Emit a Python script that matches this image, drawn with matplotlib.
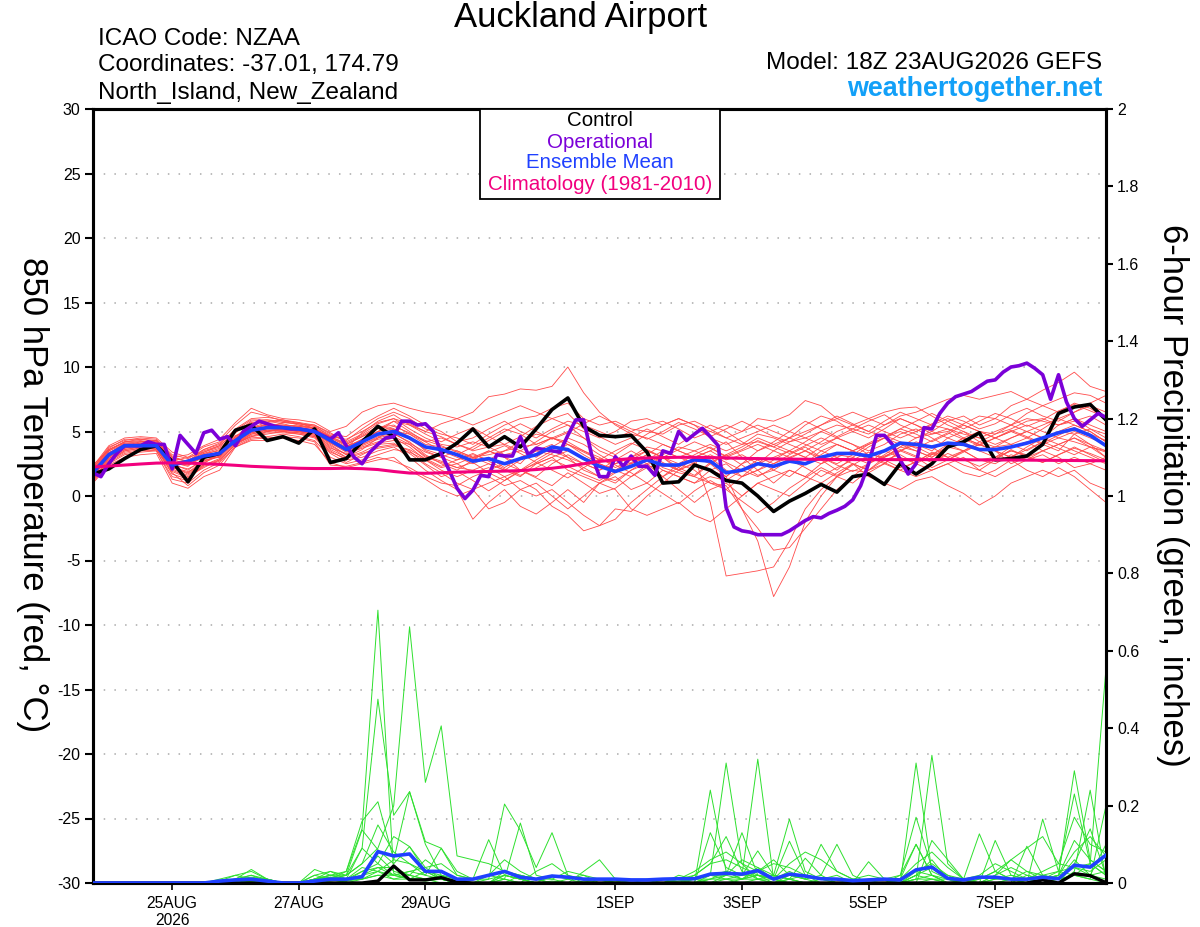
import matplotlib
matplotlib.use('Agg')
import matplotlib.pyplot as plt
from matplotlib.patches import Rectangle
import numpy as np

plt.rcParams['font.family'] = ['Liberation Sans', 'DejaVu Sans']
plt.rcParams['axes.unicode_minus'] = False

# forecast hours from 18Z 23AUG2026 (6-hourly ensemble, 3-hourly operational)
hours = np.arange(0, 385, 6)
hours_op = np.arange(0, 385, 3)

tick_hours = [30, 78, 126, 198, 246, 294, 342]
tick_labels = ['25AUG\n2026', '27AUG', '29AUG', '1SEP', '3SEP', '5SEP', '7SEP']

# 850 hPa temperature (C)
control_t = [1.7, 2.1, 2.9, 3.6, 3.9, 2.7, 1.1, 3.0, 3.3, 5.1,
             5.5, 4.3, 4.6, 4.1, 5.2, 2.6, 2.9, 4.2, 5.4, 4.6,
             2.8, 2.8, 3.3, 4.1, 5.2, 3.8, 4.6, 3.8, 5.2, 6.7,
             7.6, 5.4, 4.7, 4.6, 4.7, 3.4, 1.0, 1.1, 2.4, 2.0,
             1.2, 1.0, 0.0, -1.2, -0.4, 0.2, 0.9, 0.3, 1.5, 1.7,
             0.9, 2.5, 1.7, 2.5, 3.8, 4.2, 4.9, 2.8, 2.9, 3.1,
             4.0, 6.4, 6.9, 7.1, 5.9]

oper_t = [1.8, 1.5, 2.5, 3.3, 3.9, 3.9, 3.9, 4.2, 4.0, 4.0,
          2.1, 4.7, 4.0, 3.3, 4.9, 5.1, 4.4, 4.6, 3.9, 5.0,
          5.4, 5.8, 5.6, 5.4, 5.3, 5.2, 5.2, 5.1, 5.0, 4.7,
          4.4, 4.9, 3.9, 3.0, 2.5, 3.4, 4.0, 4.5, 4.6, 5.8,
          5.8, 5.5, 5.6, 5.0, 3.3, 2.0, 0.6, -0.2, 0.45, 1.6,
          1.5, 3.2, 3.1, 3.1, 4.6, 3.2, 3.7, 3.6, 3.5, 3.4,
          4.7, 5.9, 5.9, 3.2, 1.5, 1.5, 3.05, 2.3, 3.1, 2.3,
          2.3, 1.6, 3.5, 3.3, 5.0, 4.3, 4.8, 5.25, 4.6, 3.9,
          -0.9, -2.4, -2.7, -2.8, -3.0, -3.0, -3.0, -3.0, -2.7, -2.3,
          -1.9, -1.6, -1.7, -1.35, -1.1, -0.8, -0.3, 0.8, 2.5, 4.7,
          4.7, 4.0, 2.8, 1.7, 2.5, 5.3, 5.2, 6.4, 7.2, 7.7,
          7.9, 8.1, 8.5, 8.9, 9.0, 9.6, 10.0, 10.1, 10.3, 9.9,
          9.4, 7.5, 9.4, 7.3, 6.0, 5.4, 5.9, 6.4, 6.1]

mean_t = [1.8, 3.2, 3.9, 3.9, 3.9, 2.4, 2.7, 3.1, 3.3, 4.3,
          5.1, 5.3, 5.3, 5.2, 5.0, 4.3, 3.6, 4.2, 4.8, 5.0,
          4.5, 3.8, 3.6, 3.2, 2.7, 2.9, 2.5, 2.9, 3.2, 3.8,
          3.6, 2.9, 2.3, 1.9, 2.3, 2.8, 2.4, 2.4, 2.8, 2.7,
          1.8, 2.0, 2.5, 2.3, 2.7, 2.5, 3.0, 3.3, 3.3, 3.1,
          3.5, 4.1, 4.0, 3.8, 4.1, 4.0, 3.6, 3.6, 3.8, 4.1,
          4.5, 4.9, 5.2, 4.7, 3.9]

climo_t = [2.25, 2.32, 2.4, 2.48, 2.55, 2.57, 2.55, 2.5, 2.45, 2.38,
           2.3, 2.25, 2.2, 2.15, 2.13, 2.13, 2.15, 2.12, 2.05, 1.9,
           1.78, 1.76, 1.8, 1.85, 1.88, 1.9, 1.93, 1.97, 2.05, 2.15,
           2.3, 2.5, 2.68, 2.8, 2.9, 2.95, 2.98, 3.0, 3.0, 2.98,
           2.95, 2.92, 2.9, 2.88, 2.86, 2.85, 2.84, 2.83, 2.82, 2.82,
           2.82, 2.82, 2.82, 2.82, 2.82, 2.81, 2.8, 2.8, 2.79, 2.78,
           2.77, 2.76, 2.75, 2.74, 2.73]

t_m01 = [2.2, 3.8, 4.3, 4.5, 4.4, 3.2, 2.9, 3.6, 4.0, 5.2, 6.0, 6.1, 5.9, 5.6, 5.4, 4.7, 4.3, 5.2, 6.0, 6.5,
         6.0, 5.2, 4.8, 4.5, 4.0, 4.8, 5.5, 6.0, 6.2, 6.8, 7.2, 6.0, 5.5, 5.8, 5.2, 5.0, 4.8, 5.5, 5.8, 5.2,
         4.5, 4.0, 4.2, 3.8, 4.5, 5.5, 6.2, 5.8, 5.0, 4.5, 5.2, 6.0, 5.5, 4.8, 5.0, 5.6, 6.2, 6.0, 5.5, 6.4,
         7.0, 6.5, 7.2, 6.8, 6.0]
t_m02 = [1.6, 3.0, 3.8, 3.9, 4.0, 2.2, 1.8, 2.8, 3.0, 4.4, 5.3, 5.5, 5.4, 5.0, 4.8, 3.8, 3.0, 3.6, 4.5, 4.8,
         4.2, 3.2, 2.5, 2.0, 2.8, 3.5, 3.0, 2.5, 3.8, 4.5, 4.0, 3.5, 3.0, 2.2, 2.8, 3.5, 3.0, 2.0, 3.0, -0.5,
         -6.2, -6.0, -5.8, -5.5, -3.5, -1.0, 0.5, 1.5, 2.5, 2.0, 3.0, 3.8, 3.5, 3.0, 3.8, 4.2, 3.5, 3.0, 3.5, 3.2,
         4.0, 4.5, 4.2, 3.8, 3.5]
t_m03 = [1.9, 3.3, 4.0, 3.6, 3.5, 1.5, 1.2, 2.5, 3.4, 4.1, 4.8, 5.0, 5.1, 5.3, 5.0, 4.1, 3.4, 4.0, 4.5, 5.2,
         4.6, 3.5, 3.0, 2.5, 1.8, 2.2, 1.5, 2.0, 2.5, 3.0, 2.0, 1.5, 1.0, 1.8, 2.5, 3.0, 2.2, 1.8, 1.5, 1.0,
         0.8, -1.0, -3.5, -7.8, -5.5, -2.0, 0.0, 1.5, 2.0, 1.8, 2.5, 3.5, 4.0, 3.5, 4.5, 5.0, 4.2, 3.8, 4.0, 4.5,
         4.0, 3.5, 4.8, 5.2, 4.5]
t_m04 = [2.0, 3.6, 4.1, 4.2, 4.0, 2.6, 2.4, 3.2, 3.6, 4.6, 5.6, 5.8, 5.6, 5.3, 5.1, 4.4, 3.8, 4.4, 5.0, 5.8,
         5.5, 5.0, 5.6, 6.0, 6.5, 7.7, 7.9, 8.3, 8.2, 8.5, 10.0, 8.0, 6.5, 5.5, 4.8, 4.5, 4.0, 3.5, 3.0, 2.5,
         3.2, 3.8, 4.5, 4.0, 3.5, 4.2, 5.0, 4.5, 4.0, 3.5, 4.0, 4.8, 5.2, 4.5, 3.8, 3.5, 4.2, 4.8, 5.5, 5.0,
         4.5, 5.5, 6.0, 5.2, 4.8]
t_m05 = [1.4, 2.8, 3.5, 3.7, 3.8, 2.0, 1.5, 2.2, 2.8, 4.0, 4.6, 4.8, 5.0, 4.9, 4.6, 3.5, 2.8, 3.0, 3.5, 3.8,
         3.0, 2.0, 1.2, 0.5, -1.8, -0.5, 0.5, -0.8, -1.4, -0.5, 0.5, -0.5, 1.0, 1.5, 0.5, 1.0, 2.0, 1.5, 1.0, 2.0,
         2.5, 1.5, 2.0, 1.0, 2.0, 1.5, 2.5, 3.0, 2.5, 2.0, 2.8, 3.2, 2.5, 2.0, 2.5, 3.0, 2.0, 1.5, 2.2, 2.8,
         3.2, 2.5, 3.0, 2.5, 2.0]
t_m06 = [1.7, 3.1, 3.9, 4.1, 3.9, 2.5, 2.0, 2.9, 3.3, 4.2, 5.0, 5.4, 5.5, 5.2, 4.9, 4.0, 3.2, 3.8, 4.2, 4.5,
         3.8, 2.8, 2.0, 1.5, 2.0, 1.5, 0.8, 1.2, 0.5, -0.8, -1.5, -2.7, -2.3, -1.0, -1.2, 0.0, 1.0, 2.0, 2.5, 2.0,
         1.5, 2.5, 3.0, 2.5, 3.0, 3.5, 2.8, 2.0, 3.0, 3.8, 4.5, 4.0, 3.5, 3.0, 3.8, 4.5, 5.0, 4.5, 4.0, 3.5,
         4.2, 5.0, 5.5, 5.0, 4.2]
t_m07 = [2.3, 3.9, 4.5, 4.6, 4.5, 3.4, 3.0, 3.8, 4.2, 5.5, 6.5, 6.2, 5.8, 5.7, 5.5, 4.8, 4.6, 5.5, 6.2, 6.8,
         6.2, 5.5, 5.0, 4.2, 4.5, 5.2, 5.8, 5.0, 4.5, 5.2, 5.8, 5.5, 5.0, 4.5, 5.0, 5.5, 5.8, 5.2, 4.5, 5.0,
         5.5, 5.0, 6.0, 5.8, 6.3, 7.4, 7.0, 6.0, 5.5, 5.0, 5.8, 6.5, 6.0, 5.5, 6.0, 5.5, 5.0, 4.8, 5.2, 5.8,
         6.0, 5.5, 5.8, 6.2, 5.5]
t_m08 = [1.2, 2.6, 3.3, 3.5, 3.6, 1.8, 0.8, 1.8, 2.4, 3.9, 4.5, 4.6, 4.8, 4.6, 4.3, 3.0, 2.5, 2.8, 3.2, 3.6,
         3.4, 2.8, 2.2, 2.5, 3.0, 3.5, 3.0, 2.0, 2.8, 3.5, 3.0, 2.0, 1.5, 1.2, 2.0, 2.5, 1.5, 0.5, -0.5, 0.5,
         1.0, 0.0, 1.0, 1.5, 2.0, 1.5, 1.0, 1.8, 2.5, 1.5, 1.0, 0.5, 1.2, 1.5, 0.8, 0.2, -0.7, 0.0, 1.0, 1.5,
         2.0, 1.5, 2.0, 1.0, 0.5]
t_m09 = [1.8, 3.4, 3.8, 3.8, 3.9, 2.4, 2.8, 3.3, 3.5, 4.3, 5.2, 5.6, 5.4, 5.5, 5.2, 4.6, 4.0, 4.6, 5.3, 5.5,
         4.8, 4.0, 3.8, 3.5, 3.0, 3.2, 3.5, 3.8, 4.0, 4.5, 4.2, 3.5, 2.8, 2.5, 3.0, 3.5, 3.0, 2.5, 3.2, 3.8,
         3.0, 3.5, 4.0, 3.5, 4.2, 4.5, 5.0, 5.5, 5.2, 4.8, 5.5, 6.0, 5.5, 5.0, 5.8, 6.2, 5.5, 6.0, 7.0, 7.5,
         8.2, 8.8, 9.6, 8.5, 8.1]
t_m10 = [1.5, 3.0, 3.7, 4.0, 4.2, 2.8, 2.5, 3.0, 3.0, 4.5, 5.4, 5.0, 5.2, 5.4, 5.3, 4.2, 3.5, 4.2, 5.0, 5.2,
         4.5, 3.8, 3.5, 3.0, 2.5, 3.0, 2.2, 3.0, 3.5, 3.2, 2.8, 2.2, 1.5, 1.0, 2.0, 2.8, 3.5, 3.0, 3.5, 4.0,
         3.5, 4.0, 4.8, 4.5, 4.0, 3.5, 4.2, 5.0, 5.5, 6.0, 6.5, 6.8, 6.9, 6.2, 5.5, 5.0, 4.5, 4.0, 4.5, 5.0,
         4.5, 4.0, 4.5, 4.0, 3.5]
t_m11 = [1.1, 2.5, 3.2, 3.4, 3.5, 1.3, 1.0, 2.0, 2.6, 3.8, 4.4, 4.5, 4.6, 4.5, 4.2, 2.4, 2.3, 2.6, 3.0, 2.7,
         2.2, 1.5, 1.0, 0.8, 1.5, 2.0, 2.5, 2.0, 1.5, 2.5, 3.2, 2.5, 2.0, 2.8, 3.5, 2.8, 2.0, 1.5, 1.0, 1.5,
         1.2, 2.0, 2.8, 2.0, 1.5, 2.5, 3.2, 4.0, 3.5, 3.0, 2.5, 3.5, 4.2, 3.8, 3.0, 3.5, 2.8, 2.5, 3.2, 2.8,
         3.5, 4.0, 3.5, 3.0, 2.5]
t_m12 = [2.1, 3.7, 4.4, 4.4, 4.2, 3.0, 3.2, 3.9, 4.4, 5.7, 6.8, 6.3, 6.0, 5.9, 5.7, 5.0, 5.4, 6.5, 7.0, 7.2,
         6.8, 6.5, 6.3, 6.0, 5.5, 6.0, 6.5, 7.0, 6.5, 6.0, 5.5, 5.0, 4.5, 5.0, 5.8, 6.0, 5.5, 6.0, 5.5, 4.5,
         4.0, 4.5, 5.0, 5.5, 5.0, 4.5, 4.0, 4.5, 5.0, 5.5, 5.0, 4.5, 5.0, 5.5, 5.2, 4.8, 4.5, 5.0, 5.5, 6.0,
         5.8, 5.5, 6.0, 5.5, 5.0]
t_m13 = [1.3, 2.7, 3.4, 3.6, 3.7, 1.9, 1.4, 2.3, 2.7, 4.0, 4.7, 4.9, 4.9, 4.8, 4.5, 3.3, 2.6, 3.2, 3.8, 4.0,
         3.5, 2.5, 1.8, 1.0, 0.5, 1.0, 1.5, 0.5, 0.0, 0.5, -0.5, -1.5, -2.3, -1.8, -0.5, 0.5, 1.5, 2.5, 2.0, 1.0,
         0.5, 1.5, 2.5, 3.5, 3.0, 2.5, 3.5, 4.0, 3.5, 2.8, 3.0, 3.5, 3.0, 2.2, 2.8, 3.5, 4.0, 3.5, 2.5, 3.0,
         3.5, 3.0, 2.2, 2.5, 3.0]
t_m14 = [1.9, 3.2, 3.9, 4.2, 4.3, 2.7, 3.0, 3.4, 3.8, 4.7, 5.0, 5.3, 5.7, 5.6, 5.5, 4.9, 4.2, 4.8, 5.6, 6.0,
         5.2, 4.5, 4.0, 3.8, 4.2, 3.8, 3.2, 3.5, 4.2, 5.0, 5.5, 4.5, 3.5, 3.0, 2.5, 3.2, 4.0, 3.5, 3.0, 3.5,
         4.2, 3.0, 2.0, 2.5, 3.2, 3.8, 3.0, 2.5, 3.2, 4.0, 4.5, 5.2, 4.8, 4.2, 4.8, 5.5, 5.0, 4.5, 5.0, 4.5,
         5.2, 6.0, 6.5, 7.0, 6.5]
t_m15 = [1.6, 2.9, 3.6, 3.8, 3.6, 2.1, 1.6, 2.6, 3.1, 4.1, 4.9, 5.1, 5.0, 4.9, 4.7, 3.7, 3.3, 3.7, 4.1, 4.3,
         4.0, 3.0, 2.6, 2.2, 2.0, 2.5, 2.0, 1.5, 2.5, 3.0, 3.5, 3.0, 2.5, 2.0, 1.5, 2.2, 2.5, 2.0, 1.5, 2.5,
         1.5, -1.0, -2.5, -4.2, -4.0, -2.5, -1.0, 0.5, 1.5, 2.5, 3.5, 3.0, 2.5, 3.2, 4.0, 3.5, 2.8, 3.0, 3.8, 4.2,
         3.5, 4.0, 4.5, 3.8, 3.0]
t_m16 = [1.8, 3.5, 4.0, 3.9, 3.8, 2.3, 2.6, 3.1, 3.2, 4.4, 5.1, 5.4, 5.3, 5.1, 5.0, 4.5, 3.9, 4.3, 4.7, 5.0,
         4.8, 4.2, 4.5, 4.0, 3.5, 3.8, 4.0, 3.5, 3.0, 3.8, 4.5, 4.0, 3.2, 2.5, 3.0, 3.8, 3.5, 3.0, 2.5, 2.0,
         1.5, 2.5, 3.5, 4.0, 4.5, 4.0, 3.5, 3.0, 3.5, 4.0, 4.5, 5.0, 4.5, 4.8, 5.2, 4.5, 4.0, 4.5, 5.0, 5.5,
         5.0, 4.5, 5.0, 4.5, 4.0]
t_m17 = [2.4, 3.6, 4.2, 4.3, 4.1, 2.9, 2.7, 3.5, 3.9, 4.9, 5.8, 5.9, 5.8, 5.5, 5.3, 4.5, 4.0, 4.6, 5.2, 5.8,
         5.0, 4.2, 3.5, 3.2, 3.8, 4.5, 5.2, 4.8, 4.0, 4.5, 5.0, 4.5, 3.8, 3.2, 4.0, 4.8, 5.5, 6.0, 5.5, 5.0,
         4.5, 5.0, 5.5, 5.0, 4.5, 5.0, 5.5, 6.0, 6.5, 6.0, 5.5, 6.2, 6.5, 7.0, 7.5, 7.8, 7.5, 7.8, 8.1, 7.5,
         7.0, 7.5, 8.0, 7.8, 7.2]
t_m18 = [1.0, 2.4, 3.0, 3.2, 3.3, 1.0, 0.6, 1.5, 2.0, 3.8, 4.3, 4.3, 4.5, 4.3, 4.0, 2.6, 2.2, 2.5, 2.8, 3.0,
         2.0, 1.3, 0.5, 0.0, 0.5, -1.0, -0.5, 0.5, 1.0, 0.0, -1.0, 0.0, 1.0, 0.5, -1.0, -1.5, -1.0, -0.5, -1.5, -2.0,
         -1.0, 0.0, 1.0, 0.5, 0.0, 1.0, 2.0, 1.5, 1.0, 2.0, 2.5, 2.0, 1.5, 2.0, 2.5, 1.8, 1.5, 2.0, 2.8, 2.0,
         1.5, 2.2, 1.5, 0.5, -0.5]
t_m19 = [2.0, 3.3, 4.1, 4.0, 4.1, 2.6, 2.3, 3.3, 3.7, 4.6, 5.3, 5.7, 5.9, 5.7, 5.2, 4.6, 4.1, 4.7, 5.4, 5.2,
         4.4, 3.6, 3.2, 2.8, 3.2, 2.8, 3.5, 4.2, 4.8, 4.5, 4.0, 3.2, 2.5, 2.0, 2.8, 2.2, 1.5, 2.2, 3.0, 3.5,
         2.8, 3.2, 2.5, 3.0, 3.5, 3.0, 3.8, 4.5, 4.0, 3.2, 3.0, 3.8, 4.5, 5.0, 4.5, 4.0, 3.5, 3.8, 4.5, 5.0,
         5.5, 6.0, 5.5, 5.0, 4.2]
t_m20 = [1.7, 3.2, 3.8, 4.1, 4.0, 2.4, 2.1, 2.7, 3.2, 4.2, 4.9, 5.2, 5.1, 5.0, 4.9, 4.1, 3.5, 4.0, 4.6, 4.9,
         4.1, 3.4, 3.0, 3.5, 3.0, 2.5, 2.0, 2.8, 3.5, 4.0, 3.0, 2.5, 2.0, 2.5, 3.0, 2.5, 3.2, 3.8, 3.5, 3.0,
         2.0, 1.5, 2.0, 2.8, 3.5, 3.0, 2.5, 3.2, 3.0, 2.5, 3.2, 4.0, 3.8, 3.2, 3.8, 4.5, 4.0, 3.5, 3.0, 3.8,
         4.5, 5.0, 4.8, 4.0, 3.0]
t_m21 = [2.0, 3.5, 4.2, 4.4, 4.3, 3.1, 2.6, 3.4, 3.9, 5.0, 5.7, 5.6, 5.5, 5.4, 5.2, 4.4, 3.7, 4.9, 5.8, 6.3,
         5.5, 4.8, 4.2, 4.8, 5.3, 4.6, 4.0, 4.6, 5.4, 6.0, 6.4, 5.2, 4.6, 4.0, 4.5, 5.2, 4.6, 4.0, 4.8, 5.5,
         5.0, 4.2, 3.5, 4.2, 5.0, 5.8, 5.2, 4.6, 5.2, 5.8, 6.3, 5.5, 5.0, 5.6, 6.2, 5.8, 5.2, 5.6, 6.3, 6.8,
         6.2, 5.8, 6.5, 7.2, 7.8]
t_m22 = [1.3, 2.9, 3.6, 3.8, 3.9, 2.2, 1.9, 2.4, 2.9, 4.1, 4.6, 5.0, 5.2, 5.0, 4.7, 3.6, 3.0, 3.4, 4.0, 4.1,
         3.3, 2.4, 1.5, 1.9, 1.2, 0.4, 1.2, 2.0, 1.4, 0.8, 1.8, 1.0, 0.2, 0.6, 1.5, 2.4, 3.0, 2.2, 1.6, 2.6,
         3.2, 2.4, 1.6, 2.0, 2.8, 2.2, 1.5, 2.2, 2.8, 3.4, 2.8, 2.2, 2.6, 3.4, 3.0, 2.4, 2.0, 2.8, 3.6, 3.0,
         2.6, 3.2, 3.8, 3.2, 2.6]
t_m23 = [1.8, 3.3, 3.9, 4.0, 4.1, 2.5, 2.4, 3.0, 3.4, 4.5, 5.2, 5.5, 5.4, 5.3, 5.1, 4.3, 3.7, 4.4, 5.0, 5.4,
         4.9, 4.3, 3.9, 3.4, 2.9, 3.4, 3.9, 3.3, 2.6, 3.3, 4.0, 3.4, 2.8, 3.5, 4.1, 3.6, 3.0, 3.6, 4.2, 3.7,
         3.1, 3.6, 4.3, 3.8, 3.3, 3.9, 4.5, 4.0, 3.5, 4.1, 4.7, 4.2, 3.7, 4.3, 4.9, 4.4, 3.9, 4.5, 5.1, 4.6,
         4.1, 4.7, 5.3, 4.8, 4.3]
t_m24 = [1.5, 3.1, 3.7, 3.9, 3.8, 2.3, 1.7, 2.7, 3.1, 4.3, 5.0, 5.3, 5.1, 5.0, 4.8, 3.9, 3.2, 3.9, 4.4, 4.6,
         4.0, 3.1, 2.7, 2.2, 2.6, 1.8, 1.2, 1.9, 2.6, 2.0, 1.4, 2.2, 2.9, 2.4, 1.8, 1.0, 0.2, -0.6, 0.4, 1.2,
         0.5, -0.4, -1.3, -0.5, 0.6, 1.4, 2.2, 1.6, 2.4, 3.1, 2.6, 2.0, 2.7, 3.3, 2.8, 3.4, 4.0, 3.5, 3.0, 3.6,
         4.2, 3.7, 3.2, 3.8, 3.4]
t_m25 = [2.2, 3.6, 4.2, 4.2, 4.3, 3.0, 2.7, 3.6, 4.1, 5.1, 5.9, 5.9, 5.7, 5.6, 5.4, 4.6, 4.4, 5.0, 5.7, 6.0,
         5.6, 5.0, 4.6, 4.0, 3.6, 4.3, 5.0, 5.6, 5.0, 4.4, 4.9, 5.6, 6.2, 5.6, 5.0, 4.4, 5.0, 5.7, 5.2, 4.6,
         5.2, 5.8, 5.2, 4.6, 4.2, 4.8, 5.5, 6.2, 5.6, 5.0, 4.6, 5.2, 5.8, 6.4, 5.8, 5.2, 5.8, 6.4, 6.0, 5.4,
         5.9, 6.6, 7.1, 6.6, 6.1]
t_m26 = [1.4, 2.7, 3.5, 3.7, 3.7, 1.7, 1.3, 2.4, 2.8, 4.0, 4.8, 5.1, 5.0, 4.8, 4.6, 3.4, 2.9, 3.3, 3.7, 3.9,
         3.6, 2.9, 2.3, 2.8, 3.3, 2.7, 2.1, 1.6, 2.2, 2.8, 2.3, 1.7, 1.2, 1.9, 2.6, 3.2, 2.6, 2.0, 2.6, 3.2,
         2.6, 2.0, 1.5, 2.2, 2.9, 3.5, 3.0, 2.4, 1.9, 2.5, 3.1, 3.6, 3.1, 2.6, 3.3, 2.8, 2.3, 2.9, 3.5, 3.1,
         2.6, 3.2, 3.7, 3.3, 2.8]

temp_members = [t_m01, t_m02, t_m03, t_m04, t_m05, t_m06, t_m07, t_m08, t_m09, t_m10,
                t_m11, t_m12, t_m13, t_m14, t_m15, t_m16, t_m17, t_m18, t_m19, t_m20,
                t_m21, t_m22, t_m23, t_m24, t_m25, t_m26]

# 6-hour precipitation (inches)
control_p = [0, 0, 0, 0, 0, 0, 0, 0, 0, 0,
             0, 0, 0, 0, 0, 0, 0, 0, 0.005, 0.044,
             0.008, 0.008, 0.014, 0.002, 0, 0, 0, 0, 0, 0,
             0, 0, 0, 0, 0, 0, 0, 0, 0, 0,
             0, 0, 0, 0, 0, 0, 0, 0, 0, 0,
             0, 0, 0, 0, 0, 0, 0, 0, 0, 0,
             0.008, 0, 0.024, 0.019, 0.001]

mean_p = [0, 0, 0, 0, 0, 0, 0, 0, 0.005, 0.008,
          0.01, 0.005, 0, 0, 0.005, 0.01, 0.01, 0.016, 0.081, 0.07,
          0.075, 0.03, 0.03, 0.01, 0.01, 0.02, 0.03, 0.015, 0.01, 0.018,
          0.015, 0.01, 0.01, 0.01, 0.008, 0.008, 0.01, 0.011, 0.011, 0.023,
          0.025, 0.023, 0.032, 0.01, 0.023, 0.018, 0.011, 0.01, 0.006, 0.008,
          0.01, 0.008, 0.034, 0.041, 0.012, 0.008, 0.015, 0.015, 0.01, 0.01,
          0.015, 0.011, 0.046, 0.041, 0.072]

p_m01 = [0, 0, 0, 0, 0, 0, 0, 0, 0.005, 0.01, 0.02, 0.01, 0, 0, 0.01, 0.02, 0.03, 0.14, 0.705, 0.025,
         0.01, 0.005, 0.01, 0, 0, 0.01, 0.02, 0.01, 0, 0.005, 0, 0, 0, 0, 0, 0, 0, 0.01, 0.02, 0.05,
         0.12, 0.03, 0.01, 0, 0.02, 0.01, 0, 0, 0, 0, 0, 0.01, 0.1, 0.02, 0, 0, 0.01, 0.03, 0.01, 0,
         0.02, 0.03, 0.23, 0.05, 0.02]
p_m02 = [0, 0, 0, 0, 0, 0, 0, 0, 0, 0.005, 0.01, 0.005, 0, 0, 0.005, 0.01, 0.02, 0.05, 0.09, 0.2,
         0.662, 0.26, 0.406, 0.07, 0.06, 0.05, 0.03, 0.02, 0.01, 0, 0, 0.005, 0, 0, 0, 0, 0.01, 0, 0, 0.24,
         0.03, 0.01, 0.02, 0.01, 0, 0, 0, 0, 0, 0, 0, 0, 0, 0.11, 0.06, 0.01, 0, 0, 0, 0.02,
         0.01, 0, 0.05, 0.14, 0.02]
p_m03 = [0, 0, 0, 0, 0, 0, 0, 0, 0.01, 0.02, 0.03, 0.01, 0, 0, 0.02, 0.03, 0.01, 0.09, 0.475, 0.175,
         0.236, 0.1, 0.02, 0.01, 0, 0.02, 0.03, 0.01, 0, 0, 0.01, 0.02, 0, 0, 0, 0, 0, 0.005, 0.01, 0.02,
         0.31, 0.05, 0.01, 0.02, 0.01, 0, 0.01, 0, 0, 0, 0, 0.02, 0.17, 0.04, 0.01, 0, 0, 0.01, 0.02, 0.01,
         0, 0.02, 0.29, 0.06, 0.03]
p_m04 = [0, 0, 0, 0, 0, 0, 0, 0, 0, 0, 0.005, 0.01, 0, 0, 0, 0.01, 0.03, 0.16, 0.21, 0.06,
         0.05, 0.02, 0.09, 0.03, 0.01, 0.112, 0.02, 0.01, 0, 0, 0, 0, 0, 0, 0, 0, 0, 0.01, 0, 0.01,
         0.02, 0.13, 0.02, 0, 0.01, 0.064, 0.02, 0, 0, 0, 0, 0, 0.01, 0.33, 0.05, 0.01, 0, 0, 0.01, 0,
         0.01, 0, 0.03, 0.24, 0.01]
p_m05 = [0, 0, 0, 0, 0, 0, 0, 0, 0.005, 0.01, 0.015, 0.01, 0, 0, 0.01, 0.03, 0.02, 0.137, 0.086, 0.05,
         0.094, 0.03, 0.01, 0, 0, 0, 0.01, 0.155, 0.02, 0.01, 0, 0, 0, 0, 0, 0.01, 0, 0, 0, 0.13,
         0.04, 0.02, 0.32, 0.01, 0.108, 0.02, 0, 0, 0, 0, 0, 0, 0.31, 0.03, 0.01, 0, 0, 0, 0, 0.095,
         0.02, 0.01, 0.02, 0.05, 0.555]
p_m06 = [0, 0, 0, 0, 0, 0, 0, 0, 0, 0.01, 0.035, 0.01, 0, 0, 0.035, 0.02, 0.01, 0.02, 0.03, 0.06,
         0.236, 0.107, 0.09, 0.02, 0.01, 0.01, 0.204, 0.136, 0.04, 0.13, 0.02, 0.01, 0, 0, 0, 0, 0, 0.02, 0.01, 0,
         0.01, 0.02, 0.083, 0.02, 0.165, 0.03, 0.01, 0.02, 0, 0, 0.01, 0.02, 0.1, 0.02, 0, 0.01, 0.127, 0.03, 0.01, 0,
         0.165, 0.03, 0.02, 0.01, 0.2]
p_m07 = [0, 0, 0, 0, 0, 0, 0, 0, 0, 0.005, 0.01, 0, 0, 0, 0.02, 0.01, 0.005, 0.03, 0.05, 0.12,
         0.094, 0.04, 0.01, 0, 0, 0, 0.02, 0.01, 0, 0, 0, 0.03, 0.06, 0.01, 0, 0, 0, 0, 0, 0,
         0.02, 0.01, 0.03, 0.06, 0.02, 0.01, 0.1, 0.03, 0.01, 0, 0, 0, 0.02, 0.06, 0.01, 0, 0, 0.11, 0.02, 0.01,
         0.02, 0.01, 0.06, 0.02, 0.1]
p_m08 = [0, 0, 0, 0, 0, 0, 0, 0, 0, 0, 0, 0, 0, 0, 0.01, 0.02, 0.01, 0.02, 0.07, 0.03,
         0.02, 0.06, 0.03, 0.01, 0.01, 0.02, 0.01, 0, 0, 0, 0, 0, 0, 0.005, 0, 0, 0, 0, 0, 0.02,
         0.02, 0.06, 0.04, 0.01, 0.03, 0.01, 0.02, 0.1, 0.02, 0, 0, 0.01, 0.03, 0.02, 0, 0, 0, 0.02, 0.06, 0.03,
         0.01, 0.02, 0.11, 0.06, 0.03]
p_m09 = [0, 0, 0, 0, 0, 0, 0, 0, 0.005, 0.02, 0.01, 0, 0, 0, 0.005, 0.015, 0.01, 0.03, 0.04, 0.02,
         0.03, 0.02, 0.01, 0.01, 0, 0, 0, 0, 0.03, 0.05, 0.02, 0, 0, 0, 0, 0, 0, 0, 0.01, 0.01,
         0.03, 0.02, 0.02, 0.01, 0, 0, 0, 0, 0, 0.055, 0.01, 0, 0.02, 0.01, 0.01, 0, 0, 0, 0, 0,
         0.01, 0.02, 0.04, 0.03, 0.06]
p_m10 = [0, 0, 0, 0, 0, 0, 0, 0, 0, 0, 0.005, 0, 0, 0, 0, 0.005, 0.01, 0.01, 0.02, 0.02,
         0.01, 0.01, 0.02, 0, 0, 0, 0, 0.02, 0.01, 0, 0, 0, 0, 0, 0, 0, 0, 0.005, 0.01, 0.02,
         0.01, 0.01, 0.01, 0, 0.01, 0.02, 0.01, 0, 0, 0, 0, 0, 0.01, 0.01, 0, 0, 0, 0.01, 0.01, 0.03,
         0.02, 0.01, 0.02, 0.02, 0.03]
p_m11 = [0, 0, 0, 0, 0, 0, 0, 0, 0, 0.01, 0.02, 0.005, 0, 0, 0.01, 0.02, 0.02, 0.05, 0.15, 0.08,
         0.05, 0.03, 0.02, 0.01, 0, 0, 0.03, 0.02, 0.01, 0, 0, 0, 0, 0, 0, 0, 0, 0, 0.02, 0.05,
         0.06, 0.04, 0.02, 0.02, 0.01, 0, 0, 0, 0.01, 0.02, 0.01, 0.01, 0.05, 0.08, 0.04, 0.01, 0.02, 0.05, 0.03, 0.01,
         0.03, 0.05, 0.17, 0.1, 0.08]
p_m12 = [0, 0, 0, 0, 0, 0, 0, 0, 0, 0, 0.01, 0, 0, 0, 0, 0.01, 0.02, 0.09, 0.05, 0.02,
         0.03, 0.04, 0.05, 0.02, 0.01, 0.02, 0.06, 0.03, 0.01, 0.01, 0.03, 0.02, 0.01, 0, 0, 0, 0, 0.01, 0.03, 0.06,
         0.08, 0.05, 0.03, 0.05, 0.04, 0.02, 0.01, 0.01, 0, 0, 0, 0, 0.03, 0.05, 0.02, 0.01, 0, 0.02, 0.04, 0.02,
         0.01, 0.02, 0.08, 0.12, 0.07]
p_m13 = [0, 0, 0, 0, 0, 0, 0, 0, 0.005, 0.005, 0.01, 0.005, 0, 0, 0.01, 0.015, 0.005, 0.02, 0.04, 0.04,
         0.02, 0.01, 0, 0, 0, 0, 0.01, 0, 0, 0.02, 0.01, 0, 0, 0, 0, 0, 0, 0, 0, 0,
         0, 0.01, 0.02, 0.01, 0.05, 0.08, 0.06, 0.03, 0.01, 0, 0, 0, 0, 0.01, 0, 0, 0.01, 0.03, 0.06, 0.09,
         0.12, 0.05, 0.04, 0.02, 0.01]
p_m14 = [0, 0, 0, 0, 0, 0, 0, 0, 0, 0, 0, 0, 0, 0, 0.005, 0.01, 0.01, 0.04, 0.03, 0.01,
         0.01, 0.01, 0.01, 0, 0, 0, 0, 0, 0, 0, 0, 0, 0, 0, 0, 0, 0, 0, 0, 0.01,
         0.01, 0, 0.01, 0.01, 0, 0, 0, 0, 0, 0, 0, 0, 0.01, 0.02, 0.01, 0, 0, 0, 0, 0,
         0, 0.01, 0.02, 0.01, 0]
p_m15 = [0, 0, 0, 0, 0, 0, 0, 0, 0, 0.005, 0.01, 0.005, 0, 0, 0.01, 0.01, 0, 0.01, 0.02, 0.01,
         0.02, 0.01, 0.01, 0, 0, 0, 0, 0, 0, 0, 0, 0, 0, 0, 0, 0, 0, 0, 0, 0,
         0, 0, 0, 0, 0, 0, 0, 0, 0, 0, 0, 0, 0, 0, 0, 0, 0, 0, 0, 0,
         0, 0, 0, 0, 0]
p_m16 = [0, 0, 0, 0, 0, 0, 0, 0, 0, 0, 0, 0, 0, 0, 0, 0, 0.005, 0.01, 0.03, 0.02,
         0.01, 0.03, 0.01, 0.01, 0, 0, 0.02, 0.01, 0, 0, 0, 0, 0, 0.01, 0, 0, 0, 0, 0.01, 0.02,
         0.03, 0.01, 0.04, 0.02, 0.01, 0, 0, 0, 0, 0.01, 0.01, 0, 0.02, 0.04, 0.02, 0, 0, 0, 0.01, 0,
         0.01, 0.03, 0.04, 0.05, 0.02]

precip_members = [p_m01, p_m02, p_m03, p_m04, p_m05, p_m06, p_m07, p_m08,
                  p_m09, p_m10, p_m11, p_m12, p_m13, p_m14, p_m15, p_m16]

W, H = 1200, 927
fig = plt.figure(figsize=(W / 100, H / 100), dpi=100)
ax = fig.add_axes([93 / W, 44 / H, 1013 / W, 774 / H])
ax2 = ax.twinx()

# temperature
for m in temp_members:
    ax.plot(hours, m, color='#ff4a4a', lw=0.6, zorder=2)
ax.plot(hours, control_t, color='black', lw=2.6, zorder=4)
ax.plot(hours_op, oper_t, color='#7b00d8', lw=2.6, zorder=5)
ax.plot(hours, mean_t, color='#1f40ff', lw=2.6, zorder=6)
ax.plot(hours, climo_t, color='#f2007e', lw=2.2, zorder=7)

ax.set_xlim(0, 384)
ax.set_ylim(-30, 30)
ax.set_yticks(range(-30, 31, 5))
ax.set_xticks(tick_hours)
ax.set_xticklabels(tick_labels)
ax.grid(axis='y', color='#aaaaaa', lw=1.1, ls=(0, (1, 6)))
ax.set_axisbelow(True)
ax.tick_params(axis='y', direction='out', length=6, width=1.5, labelsize=11.5, pad=3)
ax.tick_params(axis='x', direction='out', length=5, width=1.2, labelsize=11.2, pad=4)

# precipitation
for m in precip_members:
    ax2.plot(hours, m, color='#2ee02e', lw=0.7, zorder=2)
ax2.plot(hours, control_p, color='black', lw=2.4, zorder=4)
ax2.plot(hours, mean_p, color='#1f40ff', lw=2.6, zorder=5)
ax2.set_ylim(0, 2)
p_ticks = np.arange(0, 2.01, 0.2)
ax2.set_yticks(p_ticks)
ax2.set_yticklabels(['0', '0.2', '0.4', '0.6', '0.8', '1', '1.2', '1.4', '1.6', '1.8', '2'])
ax2.tick_params(axis='y', direction='out', length=5, width=1.5, labelsize=11.5, pad=3)

for a in (ax, ax2):
    for s in a.spines.values():
        s.set_linewidth(2.2)

# axis titles
fig.text(32 / W, 1 - 495 / H, '850 hPa Temperature (red, °C)', rotation=270,
         ha='center', va='center', fontsize=25)
fig.text(1172 / W, 1 - 495 / H, '6-hour Precipitation (green, inches)', rotation=270,
         ha='center', va='center', fontsize=25)

# header
fig.text(581 / W, 1 - 18 / H, 'Auckland Airport', ha='center', va='center', fontsize=25)
fig.text(98 / W, 1 - 39 / H, 'ICAO Code: NZAA', ha='left', va='center', fontsize=17.5)
fig.text(98 / W, 1 - 65 / H, 'Coordinates: -37.01, 174.79', ha='left', va='center', fontsize=17.5)
fig.text(98 / W, 1 - 93 / H, 'North_Island, New_Zealand', ha='left', va='center', fontsize=17.5)
fig.text(1102 / W, 1 - 63 / H, 'Model: 18Z 23AUG2026 GEFS', ha='right', va='center', fontsize=17.6)
fig.text(1102 / W, 1 - 89 / H, 'weathertogether.net', ha='right', va='center',
         fontsize=19.4, fontweight='bold', color='#12a0f8')

# legend box
box = Rectangle((480 / W, 1 - 199 / H), 240 / W, 90 / H, transform=fig.transFigure,
                facecolor='white', edgecolor='black', lw=1.3, zorder=10)
fig.add_artist(box)
legend_items = [('Control', 'black', 121), ('Operational', '#7b00d8', 142),
                ('Ensemble Mean', '#1f40ff', 163), ('Climatology (1981-2010)', '#f2007e', 185)]
for label, col, ypix in legend_items:
    fig.text(600 / W, 1 - ypix / H, label, ha='center', va='center', color=col,
             fontsize=14.8, zorder=11)

fig.savefig('out.png', dpi=100)
